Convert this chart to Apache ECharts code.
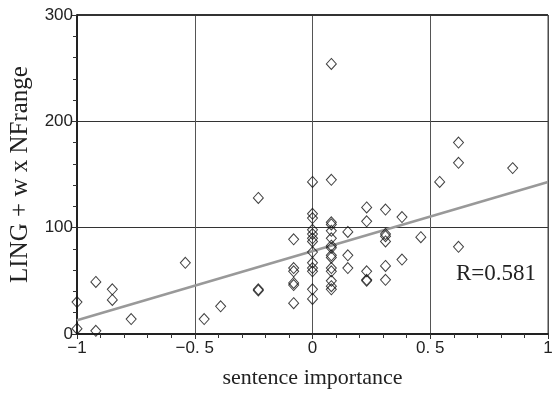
<!DOCTYPE html>
<html>
<head>
<meta charset="utf-8">
<script src="https://cdn.jsdelivr.net/npm/echarts@6/dist/echarts.min.js"></script>
<style>
  html, body { margin: 0; padding: 0; background: #fff; }
  #chart { width: 560px; height: 394px; }
</style>
</head>
<body>
<div id="chart"></div>
<script>
// sentence importance (x) and LING + w x NFrange (y)
const importance = [
  -1, -1, -0.92, -0.92, -0.85, -0.85, -0.77, -0.54, -0.46, -0.39,
  -0.23, -0.23, -0.23, -0.08, -0.08, -0.08, -0.08, -0.08, -0.08,
  0, 0, 0, 0, 0, 0, 0, 0, 0, 0, 0, 0, 0,
  0.08, 0.08, 0.08, 0.08, 0.08, 0.08, 0.08, 0.08, 0.08, 0.08, 0.08, 0.08, 0.08, 0.08, 0.08,
  0.15, 0.15, 0.15,
  0.23, 0.23, 0.23, 0.23, 0.23,
  0.31, 0.31, 0.31, 0.31, 0.31, 0.31,
  0.38, 0.38, 0.46, 0.54, 0.62, 0.62, 0.62, 0.85
];
const score = [
  30, 5, 49, 3, 42, 32, 14, 67, 14, 26,
  128, 42, 41, 89, 62, 59, 48, 46, 29,
  143, 113, 109, 98, 94, 90, 87, 77, 67, 62, 59, 42, 33,
  254, 145, 105, 103, 97, 90, 83, 81, 74, 72, 62, 59, 50, 45, 42,
  96, 74, 62,
  119, 106, 59, 51, 50,
  117, 94, 92, 87, 64, 51,
  110, 70, 91, 143, 180, 161, 82, 156
];
// regression line end points
const fitX = [-1, 1];
const fitY = [13, 143];
const rLabel = "R=0.581";

const chart = echarts.init(document.getElementById("chart"));

const serif = "'Liberation Serif', 'DejaVu Serif', serif";
const tickFont = "'Liberation Sans Narrow', 'Liberation Sans', sans-serif";

const fmtX = (v) => {
  if (v === 0) return "0";
  const s = Math.abs(v) === 1 ? "1" : String(Math.abs(v)).replace(".", ". ");
  return (v < 0 ? "\u2212" : "") + s;
};

chart.setOption({
  animation: false,
  grid: { left: 76, right: 12, top: 15, bottom: 58 },
  xAxis: {
    type: "value",
    min: -1,
    max: 1,
    interval: 0.5,
    name: "sentence importance",
    nameLocation: "middle",
    nameGap: 33,
    nameTextStyle: { fontFamily: serif, fontSize: 22, color: "#222" },
    axisLine: { onZero: false, lineStyle: { color: "#222", width: 2 } },
    axisTick: { length: 5, lineStyle: { color: "#333" } },
    minorTick: { show: true, splitNumber: 5, length: 4, lineStyle: { color: "#333" } },
    axisLabel: { fontFamily: tickFont, fontSize: 17, color: "#222", margin: 6, formatter: fmtX },
    splitLine: { show: true, lineStyle: { color: "#555", width: 1 } },
  },
  yAxis: {
    type: "value",
    min: 0,
    max: 300,
    interval: 100,
    name: "LING + w x NFrange",
    nameLocation: "middle",
    nameGap: 44,
    nameTextStyle: { fontFamily: serif, fontSize: 25, color: "#222" },
    axisLine: { show: true, onZero: false, lineStyle: { color: "#222", width: 2 } },
    axisTick: { show: true, length: 5, lineStyle: { color: "#333" } },
    minorTick: { show: true, splitNumber: 5, length: 4, lineStyle: { color: "#333" } },
    axisLabel: { fontFamily: tickFont, fontSize: 17, color: "#222", margin: 4 },
    splitLine: { show: true, lineStyle: { color: "#333", width: 1 } },
  },
  series: [
    {
      type: "line",
      data: fitX.map((x, i) => [x, fitY[i]]),
      showSymbol: false,
      lineStyle: { color: "#999", width: 2.5 },
      z: 1,
    },
    {
      type: "scatter",
      symbol: "diamond",
      symbolSize: [10, 11],
      clip: false,
      data: importance.map((x, i) => [x, score[i]]),
      itemStyle: { color: "rgba(0,0,0,0)", borderColor: "#111", borderWidth: 1 },
      z: 3,
    },
  ],
});

// frame (top heavy, right thin) and the R annotation, placed through the axes
const [x0, yTop] = chart.convertToPixel({ gridIndex: 0 }, [-1, 300]);
const [x1] = chart.convertToPixel({ gridIndex: 0 }, [1, 0]);
const [, y0] = chart.convertToPixel({ gridIndex: 0 }, [0, 0]);
chart.setOption({
  graphic: [
    {
      type: "line",
      shape: { x1: x0, y1: yTop, x2: x1, y2: yTop },
      style: { stroke: "#333", lineWidth: 2 },
    },
    {
      type: "line",
      shape: { x1: x1, y1: yTop, x2: x1, y2: y0 },
      style: { stroke: "#444", lineWidth: 1 },
    },
    {
      type: "text",
      left: 456,
      top: 262,
      style: { text: rLabel, font: "23px " + serif, fill: "#222" },
    },
  ],
});
</script>
</body>
</html>
